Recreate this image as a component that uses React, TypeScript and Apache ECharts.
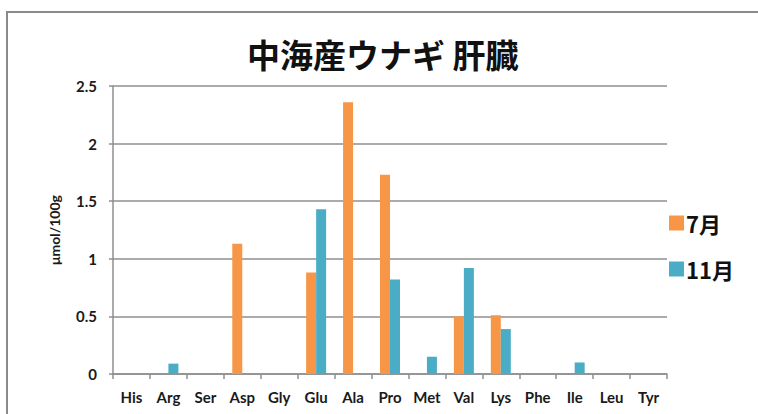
import React, { useEffect, useRef } from "react";
import * as echarts from "echarts";

const categories = ["His", "Arg", "Ser", "Asp", "Gly", "Glu", "Ala", "Pro", "Met", "Val", "Lys", "Phe", "Ile", "Leu", "Tyr"];
const julyValues = [0, 0, 0, 1.13, 0, 0.88, 2.36, 1.73, 0, 0.5, 0.51, 0, 0, 0, 0];
const novemberValues = [0, 0.09, 0, 0, 0, 1.43, 0, 0.82, 0.15, 0.92, 0.39, 0, 0.1, 0, 0];
const seriesNames = ["7月", "11月"];
const titleText = "中海産ウナギ 肝臓";
const yAxisName = "μmol/100g";

const LATIN = "Lato, 'Open Sans', sans-serif";
const CJK = "'Noto Sans CJK JP', 'Noto Sans', sans-serif";
const GRID_COLOR = "#8f8f8f";

export default function App() {
  const ref = useRef<HTMLDivElement>(null);

  useEffect(() => {
    document.body.style.margin = "0";
    if (!ref.current) return;
    const chart = echarts.init(ref.current, undefined, { renderer: "svg" });
    chart.setOption({
      animation: false,
      backgroundColor: "#ffffff",
      title: {
        text: titleText,
        left: 242,
        top: 32,
        textStyle: { fontFamily: CJK, fontSize: 33, fontWeight: "bold", color: "#111" },
      },
      graphic: [
        {
          type: "rect",
          shape: { x: 7, y: 12, width: 800, height: 450 },
          style: { fill: "none", stroke: "#8a8a8a", lineWidth: 2 },
          silent: true,
        },
      ],
      legend: {
        orient: "vertical",
        left: 664,
        top: 206,
        itemWidth: 15,
        itemHeight: 15,
        itemGap: 22,
        icon: "rect",
        textStyle: { fontFamily: CJK, fontSize: 22, fontWeight: "bold", color: "#111", lineHeight: 24, padding: [0, 0, 0, -3] },
        data: seriesNames,
      },
      grid: { left: 113, right: 91, top: 86, bottom: 40, containLabel: false },
      xAxis: {
        type: "category",
        data: categories,
        boundaryGap: true,
        axisLine: { lineStyle: { color: GRID_COLOR, width: 1.5 } },
        axisTick: { show: true, length: 5, lineStyle: { color: GRID_COLOR, width: 1.5 }, alignWithLabel: false },
        axisLabel: { fontFamily: LATIN, fontSize: 15, fontWeight: "bold", color: "#1a1a1a", margin: 15, interval: 0 },
      },
      yAxis: {
        type: "value",
        min: 0,
        max: 2.5,
        interval: 0.5,
        name: yAxisName,
        nameLocation: "middle",
        nameGap: 52,
        nameRotate: 90,
        nameTextStyle: { fontFamily: LATIN, fontSize: 14, fontWeight: "bold", color: "#1a1a1a" },
        axisLine: { show: true, lineStyle: { color: GRID_COLOR, width: 1.5 } },
        axisTick: { show: true, length: 4, lineStyle: { color: GRID_COLOR, width: 1.5 } },
        axisLabel: { fontFamily: LATIN, fontSize: 15, fontWeight: "bold", color: "#1a1a1a", margin: 16 },
        splitLine: { show: true, lineStyle: { color: GRID_COLOR, width: 1.5 } },
      },
      series: [
        {
          name: seriesNames[0],
          type: "bar",
          data: julyValues,
          barWidth: 10,
          barGap: "0%",
          itemStyle: { color: "#F79646" },
        },
        {
          name: seriesNames[1],
          type: "bar",
          data: novemberValues,
          barWidth: 10,
          barGap: "0%",
          itemStyle: { color: "#4BACC6" },
        },
      ],
    });
    return () => chart.dispose();
  }, []);

  return <div ref={ref} style={{ width: 758, height: 414 }} />;
}
